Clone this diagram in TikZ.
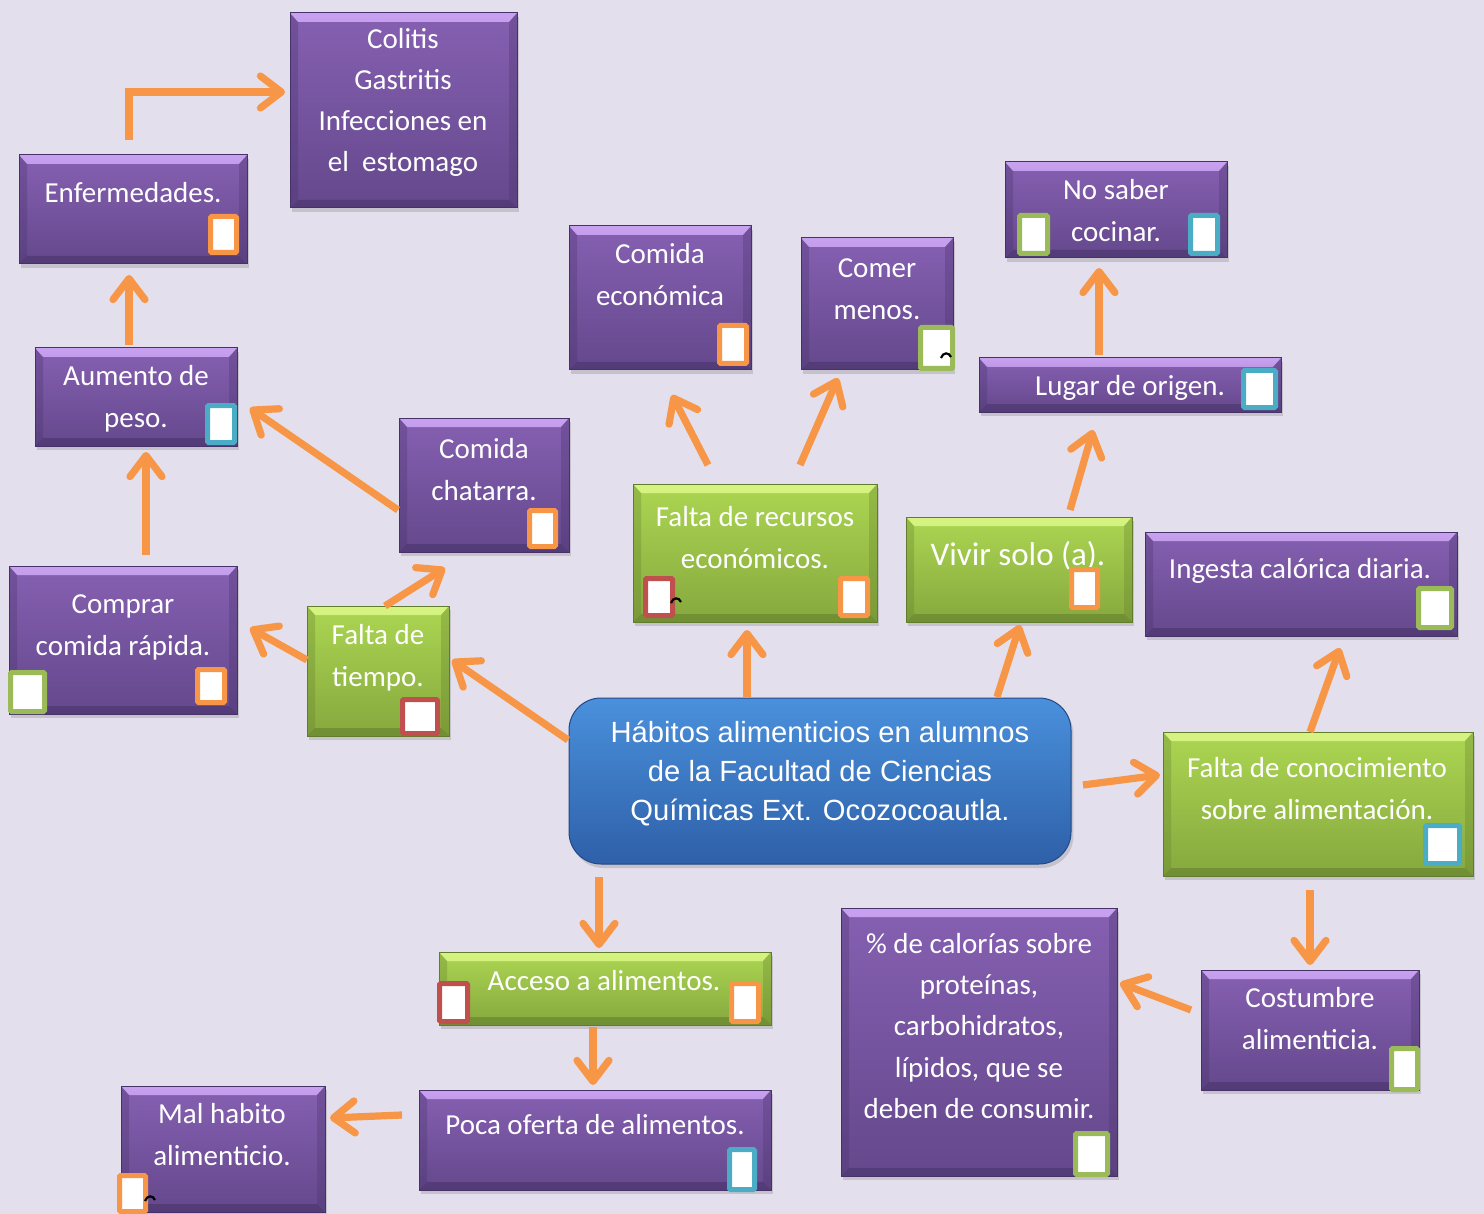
\documentclass[tikz,border=0pt]{standalone}
\usepackage{fontspec}
\setmainfont{Carlito}
\newfontfamily\arialf{Liberation Sans}
\usetikzlibrary{arrows.meta,calc,shadows}
\definecolor{bg}{RGB}{228,223,236}
\definecolor{purpT}{RGB}{134,96,178}
\definecolor{purpB}{RGB}{100,72,140}
\definecolor{purpL}{RGB}{200,162,240}
\definecolor{purpD}{RGB}{70,50,104}
\definecolor{grnT}{RGB}{172,214,82}
\definecolor{grnB}{RGB}{134,168,62}
\definecolor{grnL}{RGB}{215,244,130}
\definecolor{grnD}{RGB}{96,124,44}
\definecolor{bluT}{RGB}{74,144,220}
\definecolor{bluB}{RGB}{46,96,168}
\definecolor{bluD}{RGB}{34,72,134}
\definecolor{arrC}{RGB}{247,150,70}
\definecolor{sqO}{RGB}{247,150,70}
\definecolor{sqR}{RGB}{192,80,77}
\definecolor{sqG}{RGB}{155,187,89}
\definecolor{sqB}{RGB}{75,172,198}
\tikzset{
  bevel/.style n args={3}{path picture={
    \shade[top color=#1, bottom color=#2]
      (path picture bounding box.north west) -- (path picture bounding box.north east)
      -- ([shift={(-4pt,-4.5pt)}]path picture bounding box.north east)
      -- ([shift={(4pt,-4.5pt)}]path picture bounding box.north west) -- cycle;
    \fill[#3, opacity=.55]
      (path picture bounding box.south west) -- (path picture bounding box.south east)
      -- ([shift={(-4pt,4pt)}]path picture bounding box.south east)
      -- ([shift={(4pt,4pt)}]path picture bounding box.south west) -- cycle;
    \fill[#3, opacity=.3]
      (path picture bounding box.north west) -- ([shift={(4pt,-4.5pt)}]path picture bounding box.north west)
      -- ([shift={(4pt,4pt)}]path picture bounding box.south west) -- (path picture bounding box.south west) -- cycle;
    \fill[#3, opacity=.3]
      (path picture bounding box.north east) -- ([shift={(-4pt,-4.5pt)}]path picture bounding box.north east)
      -- ([shift={(-4pt,4pt)}]path picture bounding box.south east) -- (path picture bounding box.south east) -- cycle;
  }},
  basebox/.style={inner sep=0pt, outer sep=0pt, line width=.5pt,
    drop shadow={shadow xshift=1.2pt, shadow yshift=-2pt, opacity=.3}},
  purp/.style={basebox, draw=purpD, top color=purpT, bottom color=purpB, bevel={purpL}{purpT}{purpD}},
  grn/.style={basebox, draw=grnD, top color=grnT, bottom color=grnB, bevel={grnL}{grnT}{grnD}},
  blu/.style={basebox, draw=bluD, top color=bluT, bottom color=bluB, rounded corners=16pt},
  sqs/.style={inner sep=0pt, outer sep=0pt, fill=white, line width=2.5pt, rounded corners=.6pt},
  txt/.style={text=white, align=center, inner sep=0pt, font=\fontsize{14.5}{21}\selectfont},
  arr/.style={draw=arrC, line width=3.6pt, -{Straight Barb[length=10.5pt,width=16pt,round]}},
}
\newcommand\mkbox[6]{\node[#2, minimum width={0.5*(#5-#3)}, minimum height={0.5*(#6-#4)}] (#1) at ({(#3+#5)/2},{(#4+#6)/2}) {};}
\newcommand\mksq[6]{\node[sqs, draw=#2, minimum width={0.5*(#5-#3)-2.5}, minimum height={0.5*(#6-#4)-2.5}] (#1) at ({(#3+#5)/2},{(#4+#6)/2}) {};}
\begin{document}
\begin{tikzpicture}[x=0.5pt, y=-0.5pt]
\fill[bg] (0,0) rectangle (1484,1214);
\useasboundingbox (0,0) rectangle (1484,1214);

% boxes
\mkbox{col}{purp}{290}{13}{517}{208}
\mkbox{enf}{purp}{19}{155}{247}{264}
\mkbox{aum}{purp}{35}{348}{237}{446}
\mkbox{chat}{purp}{399}{418}{569}{552}
\mkbox{comp}{purp}{9}{566}{237}{714}
\mkbox{tiem}{grn}{307}{606}{449}{736}
\mkbox{econ}{purp}{569}{226}{751}{370}
\mkbox{menos}{purp}{801}{238}{953}{370}
\mkbox{nosab}{purp}{1005}{162}{1227}{258}
\mkbox{lugar}{purp}{979}{358}{1281}{412}
\mkbox{recur}{grn}{633}{484}{877}{622}
\mkbox{vivir}{grn}{906}{517}{1132}{622}
\mkbox{ingest}{purp}{1145}{532}{1457}{636}
\mkbox{cen}{blu}{569}{698}{1071}{864}
\mkbox{conoc}{grn}{1163}{732}{1473}{876}
\mkbox{acc}{grn}{439}{952}{771}{1025}
\mkbox{poca}{purp}{419}{1090}{771}{1190}
\mkbox{mal}{purp}{121}{1086}{325}{1212}
\mkbox{pct}{purp}{841}{908}{1117}{1176}
\mkbox{cost}{purp}{1201}{970}{1419}{1090}

% texts
\node[txt, font=\fontsize{14.5}{20.5}\selectfont] (tcol) at (403,102.5) {Colitis\\Gastritis\\Infecciones en\\el\ \ estomago};
\node[txt] (tenf) at (133,193) {Enfermedades.};
\node[txt] (taum) at (136,399) {Aumento de\\peso.};
\node[txt] (tchat) at (484,470) {Comida\\chatarra.};
\node[txt] (tcomp) at (123,627) {Comprar\\comida rápida.};
\node[txt] (ttiem) at (378,658) {Falta de\\tiempo.};
\node[txt] (tecon) at (660,275) {Comida\\económica};
\node[txt] (tmenos) at (877,289) {Comer\\menos.};
\node[txt] (tnosab) at (1116,211) {No saber\\cocinar.};
\node[txt] (tlugar) at (1130,388) {Lugar de origen.};
\node[txt] (trecur) at (755,538) {Falta de recursos\\económicos.};
\node[txt, font=\fontsize{16.5}{21}\selectfont] (tvivir) at (1018,556) {Vivir solo (a).};
\node[txt] (tingest) at (1300,571) {Ingesta calórica diaria.};
\node[txt, font=\arialf\fontsize{14.6}{19.5}\selectfont] (tcen) at (820,774) {Hábitos alimenticios en alumnos\\de la Facultad de Ciencias\\Químicas Ext. Ocozocoautla.};
\node[txt] (tconoc) at (1317,789) {Falta de conocimiento\\sobre alimentación.};
\node[txt] (tacc) at (604,981) {Acceso a alimentos.};
\node[txt] (tpoca) at (595,1125) {Poca oferta de alimentos.};
\node[txt] (tmal) at (222,1135) {Mal habito\\alimenticio.};
\node[txt, font=\fontsize{14.5}{20.6}\selectfont] (tpct) at (979,1026) {\% de calorías sobre\\proteínas,\\carbohidratos,\\lípidos, que se\\deben de consumir.};
\node[txt] (tcost) at (1310,1019) {Costumbre\\alimenticia.};

% small squares
\mksq{s1}{sqO}{208}{214}{239}{255}
\mksq{s2}{sqB}{205}{403}{237}{445}
\mksq{s3}{sqO}{527}{508}{558}{549}
\mksq{s4}{sqG}{8}{670}{47}{714}
\mksq{s5}{sqO}{195}{667}{227}{705}
\mksq{s6}{sqR}{400}{697}{440}{736}
\mksq{s7}{sqO}{717}{323}{749}{366}
\mksq{s8}{sqG}{918}{325}{955}{371}
\mksq{s9}{sqG}{1017}{213}{1050}{256}
\mksq{s10}{sqB}{1188}{213}{1220}{256}
\mksq{s11}{sqB}{1241}{368}{1278}{410}
\mksq{s12}{sqR}{643}{576}{675}{618}
\mksq{s13}{sqO}{838}{576}{870}{618}
\mksq{s14}{sqO}{1069}{567}{1100}{610}
\mksq{s15}{sqG}{1416}{586}{1454}{630}
\mksq{s16}{sqB}{1423}{823}{1462}{866}
\mksq{s17}{sqR}{437}{981}{470}{1024}
\mksq{s18}{sqO}{729}{981}{761}{1024}
\mksq{s19}{sqB}{727}{1147}{757}{1192}
\mksq{s20}{sqO}{117}{1173}{148}{1214}
\mksq{s21}{sqG}{1073}{1131}{1110}{1177}
\mksq{s22}{sqG}{1389}{1046}{1420}{1092}

% tiny marks
\draw[line width=1.1pt] (941,358) .. controls (943,352) and (949,352) .. (951,357);
\draw[line width=1.1pt] (671,603) .. controls (673,597) and (679,597) .. (681,602);
\draw[line width=1.1pt] (145,1201) .. controls (147,1195) and (153,1195) .. (155,1200);

% arrows
\draw[arr] ($(enf.north)+(-4,-15)$) |- ($(col.west)+(-5,-18.5)$);
\draw[arr] ($(aum.north)+(-7,-3)$) -- ($(enf.south)+(-4,11)$);
\draw[arr] ($(comp.north)+(23,-11)$) -- ($(aum.south)+(10,6)$);
\draw[arr] ($(chat.west)+(-1,25)$) -- ($(aum.east)+(13,11)$);
\draw[arr] ($(tiem.north)+(7,0)$) -- ($(chat.south)+(-39,16)$);
\draw[arr] ($(tiem.west)+(0,-11)$) -- ($(comp.east)+(13,-12)$);
\draw[arr] ($(cen.west)+(-1,-41)$) -- ($(tiem.east)+(3,-11)$);
\draw[arr] ($(cen.north)+(-73,-1)$) -- ($(recur.south)+(-8,8)$);
\draw[arr] ($(recur.north)+(-47,-19)$) -- ($(econ.south)+(12,25)$);
\draw[arr] ($(recur.north)+(45,-19)$) -- ($(menos.south)+(-39,8)$);
\draw[arr] ($(cen.north)+(177,-1)$) -- ($(vivir.south)+(1,3)$);
\draw[arr] ($(vivir.north)+(51,-7)$) -- ($(lugar.south)+(-37,18)$);
\draw[arr] ($(lugar.north)+(-31,-3)$) -- ($(nosab.south)+(-17,10)$);
\draw[arr] ($(cen.east)+(12,4)$) -- ($(conoc.west)+(-3,-29)$);
\draw[arr] ($(conoc.north)+(-8,0)$) -- ($(ingest.south)+(39,12)$);
\draw[arr] ($(conoc.south)+(-8,14)$) -- ($(cost.north)+(0,-5)$);
\draw[arr] ($(cost.west)+(-10,-20)$) -- ($(pct.east)+(3,-59)$);
\draw[arr] ($(cen.south)+(-221,13)$) -- ($(acc.north)+(-6,-4)$);
\draw[arr] ($(acc.south)+(-12,2)$) -- ($(poca.north)+(-2,-5)$);
\draw[arr] ($(poca.west)+(-17,-25)$) -- ($(mal.east)+(5,-31)$);
\end{tikzpicture}
\end{document}
